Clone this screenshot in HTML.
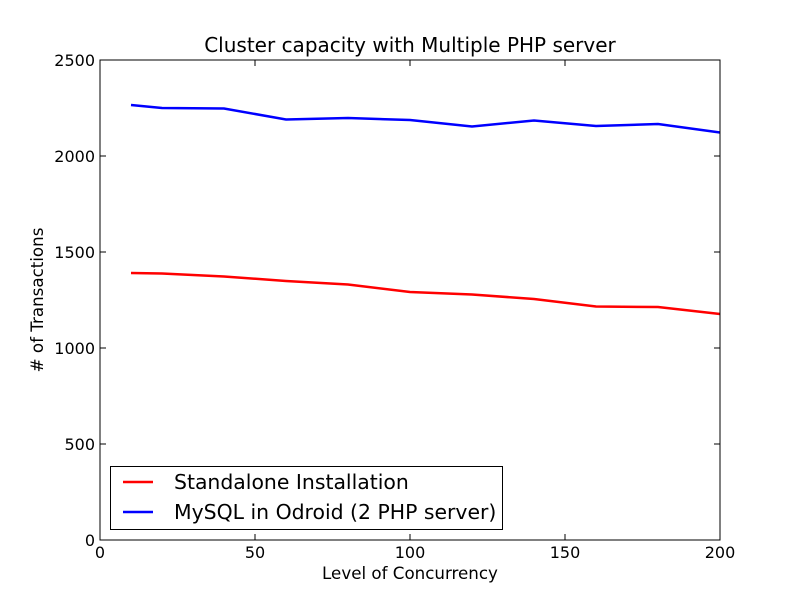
<!DOCTYPE html>
<html><head><style>body{margin:0;background:#fff}svg{display:block}</style></head><body>
<svg width="800" height="600" xmlns="http://www.w3.org/2000/svg" font-family="DejaVu Sans, Liberation Sans, sans-serif">
<rect width="800" height="600" fill="#fff"/>
<text x="410" y="52" font-size="20" text-anchor="middle">Cluster capacity with Multiple PHP server</text>
<g stroke="#000" stroke-width="1">
<line x1="100" y1="444" x2="106" y2="444"/><line x1="720" y1="444" x2="714" y2="444"/>
<line x1="100" y1="348" x2="106" y2="348"/><line x1="720" y1="348" x2="714" y2="348"/>
<line x1="100" y1="252" x2="106" y2="252"/><line x1="720" y1="252" x2="714" y2="252"/>
<line x1="100" y1="156" x2="106" y2="156"/><line x1="720" y1="156" x2="714" y2="156"/>
<line x1="255" y1="540" x2="255" y2="534"/><line x1="255" y1="60" x2="255" y2="66"/>
<line x1="410" y1="540" x2="410" y2="534"/><line x1="410" y1="60" x2="410" y2="66"/>
<line x1="565" y1="540" x2="565" y2="534"/><line x1="565" y1="60" x2="565" y2="66"/>
</g>
<polyline fill="none" stroke="#0000ff" stroke-width="2.5" points="131,105 162,108 224,108.5 286,119.5 348,118 410,120 472,126.5 534,120.5 596,126 658,124 720,132.5"/>
<polyline fill="none" stroke="#ff0000" stroke-width="2.5" points="131,273 162,273.5 224,276.5 286,281 348,284.5 410,292 472,294.5 534,299 596,306.5 658,307 720,314"/>
<rect x="100" y="60" width="620" height="480" fill="none" stroke="#000" stroke-width="1"/>
<g font-size="16" text-anchor="end">
<text x="95" y="546">0</text><text x="95" y="450">500</text><text x="95" y="354">1000</text>
<text x="95" y="258">1500</text><text x="95" y="162">2000</text><text x="95" y="66">2500</text>
</g>
<g font-size="16" text-anchor="middle">
<text x="100" y="558">0</text><text x="255" y="558">50</text><text x="410" y="558">100</text>
<text x="565" y="558">150</text><text x="720" y="558">200</text>
</g>
<g font-size="16.7" text-anchor="middle">
<text x="410" y="579">Level of Concurrency</text>
<text transform="translate(43,300) rotate(-90)"># of Transactions</text>
</g>
<rect x="110.5" y="466.5" width="392" height="63" fill="#fff" stroke="#000" stroke-width="1"/>
<line x1="123" y1="482" x2="153" y2="482" stroke="#ff0000" stroke-width="2.5"/>
<line x1="123" y1="512" x2="153" y2="512" stroke="#0000ff" stroke-width="2.5"/>
<g font-size="20.4"><text x="174" y="489">Standalone Installation</text><text x="174" y="519">MySQL in Odroid (2 PHP server)</text></g>
</svg>
</body></html>
